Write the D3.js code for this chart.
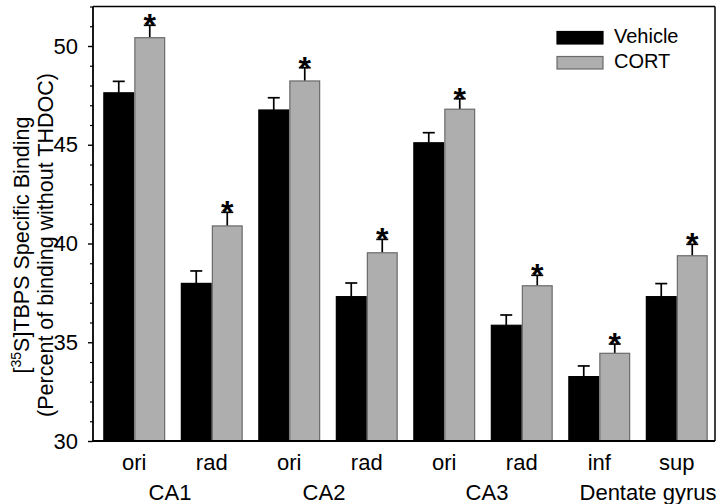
<!DOCTYPE html>
<html><head><meta charset="utf-8">
<script src="https://cdn.jsdelivr.net/npm/d3@7"></script>
<style>
body{margin:0;background:#fff;}
svg{display:block;font-family:"Liberation Sans",Arial,sans-serif;}
</style></head>
<body><svg id="c" width="720" height="504"></svg>
<script>
const categories = ["ori","rad","ori","rad","ori","rad","inf","sup"];
const regions = ["CA1","CA2","CA3","Dentate gyrus"];
const regionLabelNudge = [-3, -4, 4, 10];
const seriesNames = ["Vehicle","CORT"];
const vehicle = [47.63, 37.98, 46.76, 37.31, 45.10, 35.86, 33.26, 37.31];
const vehicleErr = [0.58, 0.63, 0.62, 0.69, 0.51, 0.52, 0.54, 0.66];
const cort = [50.42, 40.89, 48.23, 39.53, 46.80, 37.86, 34.44, 39.38];
const cortErr = [0.63, 0.69, 0.67, 0.68, 0.53, 0.53, 0.47, 0.58];
const cortSignificant = [true, true, true, true, true, true, true, true];
const yTicks = [30, 35, 40, 45, 50];
const yMinorTicks = d3.range(30, 53, 1);

const svg = d3.select("#c");
const L = 93, R = 715, T = 6.5, B = 441;
const y = d3.scaleLinear().domain([30, 52]).range([B, T]);
const idx = categories.map((d, i) => i);
const x = d3.scaleBand().domain(idx).range([L + 2.5, R + 0.5]);
const xs = d3.scaleBand().domain(seriesNames).range([0, x.bandwidth()]).paddingOuter(0.25);
const fills = {Vehicle: "#000", CORT: "#aeaeae"};
const strokes = {Vehicle: "#000", CORT: "#6a6a6a"};

const data = idx.map(i => ({i, values: [
  {s: "Vehicle", v: vehicle[i], e: vehicleErr[i], sig: false},
  {s: "CORT", v: cort[i], e: cortErr[i], sig: cortSignificant[i]}
]}));

const g = svg.append("g");
const groups = g.selectAll("g.grp").data(data).join("g").attr("transform", d => `translate(${x(d.i)},0)`);

groups.selectAll("g.err").data(d => d.values).join("g").each(function(d) {
  const cx = xs(d.s) + xs.bandwidth() / 2;
  const sel = d3.select(this);
  sel.append("line").attr("x1", cx).attr("x2", cx).attr("y1", y(d.v)).attr("y2", y(d.v + d.e))
    .attr("stroke", "#000").attr("stroke-width", 1.7);
  sel.append("line").attr("x1", cx - 6).attr("x2", cx + 6).attr("y1", y(d.v + d.e)).attr("y2", y(d.v + d.e))
    .attr("stroke", "#000").attr("stroke-width", 1.7);
  if (d.sig) {
    sel.append("text").attr("x", cx).attr("y", y(d.v + d.e) + 11)
      .attr("text-anchor", "middle").attr("font-size", 32).attr("font-weight", "bold").text("*");
  }
});

groups.selectAll("rect").data(d => d.values).join("rect")
  .attr("x", d => xs(d.s) + 0.6).attr("width", xs.bandwidth() - 1.2)
  .attr("y", d => y(d.v)).attr("height", d => B - y(d.v))
  .attr("fill", d => fills[d.s]).attr("stroke", d => strokes[d.s]).attr("stroke-width", 1.2);

// frame
svg.append("line").attr("x1", L).attr("x2", R).attr("y1", T).attr("y2", T).attr("stroke", "#000").attr("stroke-width", 1.5);
svg.append("line").attr("x1", R).attr("x2", R).attr("y1", T).attr("y2", B).attr("stroke", "#000").attr("stroke-width", 1.5);
svg.append("line").attr("x1", L - 1).attr("x2", R).attr("y1", B).attr("y2", B).attr("stroke", "#000").attr("stroke-width", 1.8);

// y axis
const yAxis = d3.axisLeft(y).tickValues(yTicks).tickSize(5).tickPadding(10).tickFormat(d3.format("d"));
const ya = svg.append("g").attr("transform", `translate(${L},0)`).call(yAxis);
ya.select(".domain").attr("stroke-width", 1.8).attr("d", `M0,${T}V${B}`);
ya.selectAll(".tick line").attr("stroke-width", 1.4);
ya.selectAll(".tick text").attr("font-size", 22).attr("font-family", "Liberation Sans, Arial, sans-serif").attr("fill", "#000");
const minor = d3.axisLeft(y).tickValues(yMinorTicks.filter(v => v % 5 !== 0)).tickSize(3).tickFormat("");
const ym = svg.append("g").attr("transform", `translate(${L},0)`).call(minor);
ym.select(".domain").remove();
ym.selectAll(".tick line").attr("stroke-width", 1.2);

// x labels
svg.append("g").selectAll("text").data(idx).join("text")
  .attr("x", i => x(i) + x.bandwidth() / 2).attr("y", 469.5)
  .attr("text-anchor", "middle").attr("font-size", 22).text(i => categories[i]);
svg.append("g").selectAll("text").data(regions).join("text")
  .attr("x", (d, k) => (x(2 * k) + x(2 * k + 1) + x.bandwidth()) / 2 + regionLabelNudge[k]).attr("y", 499.5)
  .attr("text-anchor", "middle").attr("font-size", 22).text(d => d);

// y title
const yt = svg.append("text").attr("transform", "translate(29,245) rotate(-90)").attr("text-anchor", "middle").attr("font-size", 21.5);
yt.append("tspan").text("[");
yt.append("tspan").attr("font-size", 14).attr("dy", -8).text("35");
yt.append("tspan").attr("dy", 8).text("S]TBPS Specific Binding");
svg.append("text").attr("transform", "translate(53,245) rotate(-90)").attr("text-anchor", "middle").attr("font-size", 21.5)
  .text("(Percent of binding without THDOC)");

// legend
const leg = svg.append("g").attr("transform", "translate(557,31.5)");
seriesNames.forEach((s, k) => {
  leg.append("rect").attr("x", 0).attr("y", k * 25).attr("width", 46).attr("height", 12.5)
    .attr("fill", fills[s]).attr("stroke", strokes[s]).attr("stroke-width", 1.2);
  leg.append("text").attr("x", 57).attr("y", k * 25 + 11.5).attr("font-size", 20).text(s);
});
</script></body></html>
